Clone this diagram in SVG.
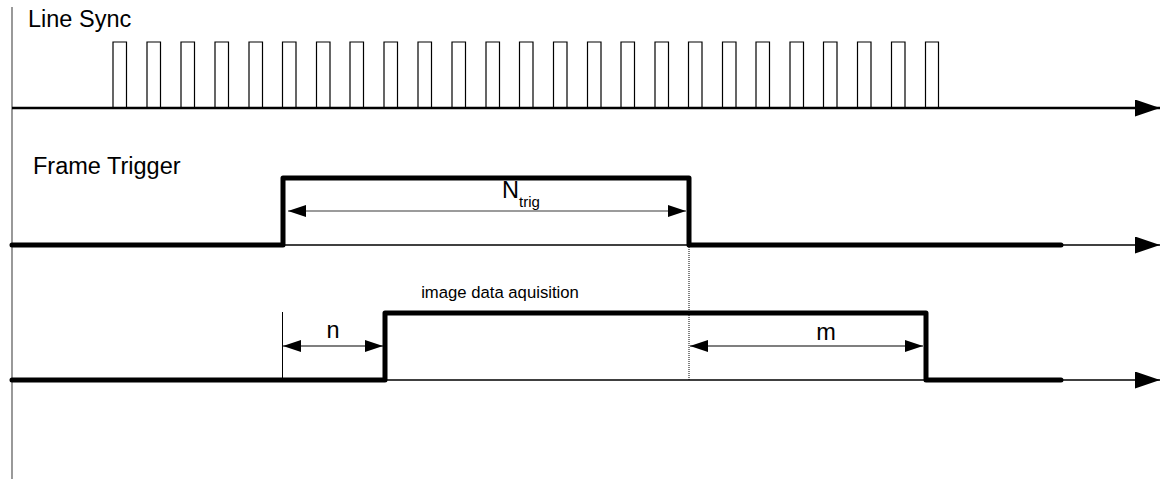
<svg xmlns="http://www.w3.org/2000/svg" width="1160" height="479" viewBox="0 0 1160 479">
<defs>
<style>
.lbl{font-family:"Liberation Sans",Arial,sans-serif;fill:#000}
.sig{fill:none;stroke:#000;stroke-width:5;stroke-linecap:round;stroke-linejoin:round}
.axis{fill:none;stroke:#000;stroke-width:1.6}
.pulse{fill:none;stroke:#000;stroke-width:1.2}
.dim{stroke:#000;stroke-width:1.2;fill:none}
</style>
<marker id="dh" viewBox="0 0 18 12" refX="18" refY="6" markerWidth="18" markerHeight="12" markerUnits="userSpaceOnUse" orient="auto-start-reverse">
<path d="M0,0 L18,6 L0,12 Z" fill="#000"/>
</marker>
<marker id="ah" viewBox="0 0 25 17" refX="25" refY="8.5" markerWidth="25" markerHeight="17" markerUnits="userSpaceOnUse" orient="auto">
<path d="M0,0 L25,8.5 L0,17 Z" fill="#000"/>
</marker>
</defs>
<rect width="1160" height="479" fill="#fff"/>

<g id="time-axis">
<line x1="12" y1="7" x2="12" y2="479" stroke="#808080" stroke-width="1.6"/>
</g>

<g id="line-sync">
<text class="lbl" x="28" y="27" font-size="23.5">Line Sync</text>
<path class="pulse" d="M113,108 V42 H126.5 V108 M147,108 V42 H160.5 V108 M181,108 V42 H194.5 V108 M215,108 V42 H228.5 V108 M249,108 V42 H262.5 V108 M282.5,108 V42 H296 V108 M316.5,108 V42 H330 V108 M350,108 V42 H363.5 V108 M384,108 V42 H397.5 V108 M418,108 V42 H431.5 V108 M452,108 V42 H465.5 V108 M486,108 V42 H499.5 V108 M519.5,108 V42 H533 V108 M553.5,108 V42 H567 V108 M587.5,108 V42 H601 V108 M621,108 V42 H634.5 V108 M655,108 V42 H668.5 V108 M688.5,108 V42 H702 V108 M722.5,108 V42 H736 V108 M756,108 V42 H769.5 V108 M790,108 V42 H803.5 V108 M823.5,108 V42 H837 V108 M857.5,108 V42 H871 V108 M891.5,108 V42 H905 V108 M925.5,108 V42 H938.5 V108"/>
<line x1="12" y1="108" x2="1160" y2="108" stroke="#000" stroke-width="2.6" marker-end="url(#ah)"/>
</g>

<g id="frame-trigger">
<text class="lbl" x="33" y="174" font-size="23.5">Frame Trigger</text>
<line class="axis" x1="12" y1="245" x2="1160" y2="245" marker-end="url(#ah)"/>
<path class="sig" d="M12,245 H283 V178 H689 V245 H1061"/>
</g>

<g id="image-acquisition">
<text class="lbl" x="500" y="298" font-size="16.7" text-anchor="middle">image data aquisition</text>
<line class="axis" x1="12" y1="380" x2="1160" y2="380" marker-end="url(#ah)"/>
<path class="sig" d="M12,380 H385 V313 H926 V380 H1061"/>
</g>

<g id="connectors">
<line x1="689" y1="245" x2="689" y2="380" stroke="#000" stroke-width="1" stroke-dasharray="1,1"/>
<line x1="282.5" y1="312" x2="282.5" y2="380" stroke="#000" stroke-width="1"/>
<line x1="288" y1="211" x2="686" y2="211" stroke="#7a7a7a" stroke-width="1.4" marker-start="url(#dh)" marker-end="url(#dh)"/>
<line class="dim" x1="283" y1="346" x2="383" y2="346" marker-start="url(#dh)" marker-end="url(#dh)"/>
<line class="dim" x1="690" y1="346" x2="923" y2="346" marker-start="url(#dh)" marker-end="url(#dh)"/>
</g>

<g id="dimension-labels">
<text class="lbl" x="502" y="198" font-size="23.5">N<tspan font-size="15" dy="9">trig</tspan></text>
<text class="lbl" x="333" y="338" font-size="23.5" text-anchor="middle">n</text>
<text class="lbl" x="826" y="340" font-size="23.5" text-anchor="middle">m</text>
</g>
</svg>
